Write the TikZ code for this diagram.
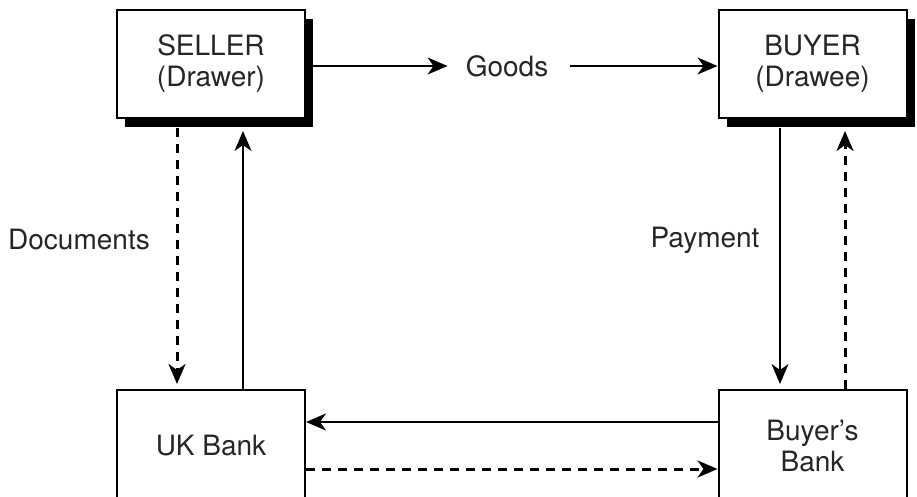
\documentclass[tikz,border=0pt]{standalone}
\usepackage{fontspec}
\setmainfont{TeX Gyre Heros}
\usetikzlibrary{arrows.meta,shadows}
\begin{document}
\begin{tikzpicture}[x=1pt,y=-1pt,
  box/.style={draw=black, line width=2pt, fill=white, minimum width=188pt, minimum height=108pt, align=center, font=\fontsize{28}{31}\selectfont, text=black!85, inner sep=0pt},
  shbox/.style={box, general shadow={fill=black, shadow xshift=8pt, shadow yshift=-9pt}},
  lbl/.style={font=\fontsize{28}{31}\selectfont, text=black!85, inner sep=0pt},
  sol/.style={line width=1.5pt, -{Stealth[length=20pt,width=17pt,inset=6pt]}},
  dsh/.style={line width=3pt, dash pattern=on 9pt off 7pt, -{Stealth[length=20pt,width=17pt,inset=6pt]}}]
\useasboundingbox (0,0) rectangle (917,497);
\clip (0,0) rectangle (917,497);
\fill[white] (0,0) rectangle (917,497);

\node[shbox] (seller) at (211,64) {SELLER\\(Drawer)};
\node[shbox] (buyer) at (812.5,64) {BUYER\\(Drawee)};
\node[box, minimum height=112pt] (ukbank) at (211,446) {UK Bank};
\node[box, minimum height=112pt] (bbank) at (812.5,446) {Buyer’s\\Bank};
\node[lbl] (goods) at (507,66) {Goods};
\node[lbl] (docs) at (79,240) {Documents};
\node[lbl] (pay) at (705,240) {Payment};

% Goods
\draw[sol, shorten >=18pt] (seller.east |- goods) -- (goods.west);
\draw[sol, shorten <=22pt] (goods.east) -- (buyer.west |- goods);

% Seller <-> UK Bank
\draw[dsh, shorten <=9pt, shorten >=5pt] ([xshift=-34pt]seller.south) -- ([xshift=-34pt]seller.south |- ukbank.north);
\draw[sol, shorten >=12pt] ([xshift=32pt]ukbank.north) -- ([xshift=32pt]ukbank.north |- seller.south);

% Buyer <-> Buyer's Bank
\draw[sol, shorten <=9pt, shorten >=5pt] ([xshift=-32.5pt]buyer.south) -- ([xshift=-32.5pt]buyer.south |- bbank.north);
\draw[dsh, shorten >=12pt] ([xshift=32.5pt]bbank.north) -- ([xshift=32.5pt]bbank.north |- buyer.south);

% Banks
\draw[sol] (bbank.west |- 0,422) -- (ukbank.east |- 0,422);
\draw[dsh] (ukbank.east |- 0,469) -- (bbank.west |- 0,469);
\end{tikzpicture}
\end{document}
